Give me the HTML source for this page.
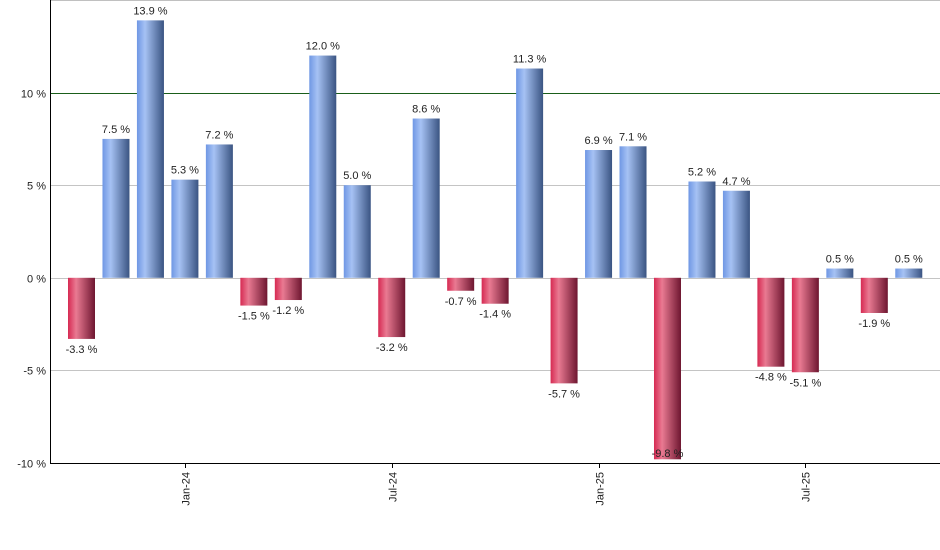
<!DOCTYPE html>
<html><head><meta charset="utf-8"><style>
body{margin:0;background:#fff;}
svg{display:block;font-family:"Liberation Sans",sans-serif;}
</style></head><body>
<svg id="chart" width="940" height="550" xmlns="http://www.w3.org/2000/svg">
<defs>
<linearGradient id="gBlue" x1="0" x2="1" y1="0" y2="0">
<stop offset="0" stop-color="#6f97e4"/><stop offset="0.3" stop-color="#a6c2f4"/><stop offset="1" stop-color="#3a5482"/>
</linearGradient>
<linearGradient id="gRed" x1="0" x2="1" y1="0" y2="0">
<stop offset="0" stop-color="#d62a52"/><stop offset="0.3" stop-color="#e97a92"/><stop offset="1" stop-color="#6e1630"/>
</linearGradient>
</defs>
<g id="grid"></g><g id="bars"></g><g id="axes"></g>
</svg>
<script>
const months = ["Oct-23","Nov-23","Dec-23","Jan-24","Feb-24","Mar-24","Apr-24","May-24","Jun-24","Jul-24","Aug-24","Sep-24","Oct-24","Nov-24","Dec-24","Jan-25","Feb-25","Mar-25","Apr-25","May-25","Jun-25","Jul-25","Aug-25","Sep-25","Oct-25"];
const returns = [-3.3,7.5,13.9,5.3,7.2,-1.5,-1.2,12.0,5.0,-3.2,8.6,-0.7,-1.4,11.3,-5.7,6.9,7.1,-9.8,5.2,4.7,-4.8,-5.1,0.5,-1.9,0.5];
const yTicks = [-10,-5,0,5,10];
const xLabelMonths = ["Jan-24","Jul-24","Jan-25","Jul-25"];

const NS="http://www.w3.org/2000/svg";
const pLeft=50,pRight=940,pTop=0,pBottom=463,yMin=-10,yMax=15;
const step=34.47, x0=81.5, bw=27;
function yS(v){return pBottom-(v-yMin)/(yMax-yMin)*(pBottom-pTop);}
function xS(i){return x0+i*step;}
function mk(tag,attrs,parent){const e=document.createElementNS(NS,tag);for(const k in attrs)e.setAttribute(k,attrs[k]);parent.appendChild(e);return e;}
const gGrid=document.getElementById('grid'),gBars=document.getElementById('bars'),gAxes=document.getElementById('axes');

const topLine=mk('line',{x1:pLeft,x2:pRight,y1:0.5,y2:0.5,stroke:'#c0c0c0'},gGrid);


yTicks.forEach(v=>{
  const yy=Math.round(yS(v))+0.5;
  if(v!==yMin){
    const l=mk('line',{x1:pLeft,x2:pRight,y1:yy,y2:yy,stroke:v===10?'#1a5e1a':'#c4c4c4'},gGrid);
    
    
  }
  const tx=mk('text',{x:46,y:yy+4,'text-anchor':'end','font-size':11,fill:'#222'},gAxes);
  tx.textContent=v+' %';
  
  
});
returns.forEach((v,i)=>{
  const cx=xS(i), y0=yS(0), yv=yS(v);
  const r=mk('rect',{x:cx-bw/2,y:Math.min(y0,yv),width:bw,height:Math.abs(yv-y0),fill:v>=0?'url(#gBlue)':'url(#gRed)'},gBars);
  
  
  const ly=v>=0?yv-6:Math.min(yv+14,pBottom-6);
  const lab=mk('text',{x:cx,y:ly,'text-anchor':'middle','font-size':11,fill:'#222'},gBars);
  lab.textContent=v.toFixed(1)+' %';
  
  
});
const yAxis=mk('line',{x1:pLeft+0.5,x2:pLeft+0.5,y1:0,y2:pBottom,stroke:'#000'},gAxes);


const xAxis=mk('line',{x1:pLeft,x2:pRight,y1:pBottom+0.5,y2:pBottom+0.5,stroke:'#000'},gAxes);


xLabelMonths.forEach(m=>{
  const i=months.indexOf(m), cx=Math.round(xS(i))+0.5;
  const tk=mk('line',{x1:cx,x2:cx,y1:pBottom,y2:pBottom+5,stroke:'#000'},gAxes);
  
  
  const tx=mk('text',{x:0,y:0,'text-anchor':'end','font-size':11,fill:'#222',transform:`translate(${cx+4},${pBottom+9}) rotate(-90)`},gAxes);
  tx.textContent=m;
  
  
});
</script>
</body></html>
